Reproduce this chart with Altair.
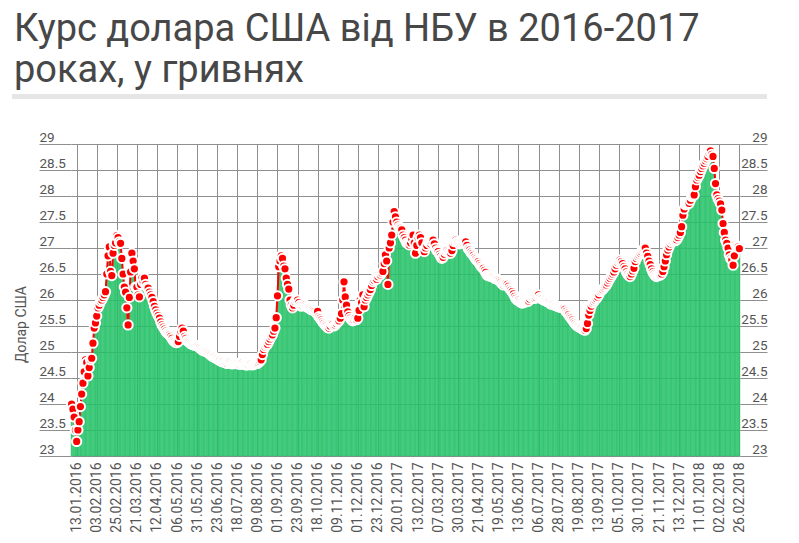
import json
import pandas as pd
import altair as alt

# x-axis tick labels (every 16th NBU business day)
date_labels = [
    "13.01.2016", "03.02.2016", "25.02.2016", "21.03.2016", "12.04.2016", "06.05.2016",
    "31.05.2016", "23.06.2016", "18.07.2016", "09.08.2016", "01.09.2016", "23.09.2016",
    "18.10.2016", "09.11.2016", "01.12.2016", "23.12.2016", "20.01.2017", "13.02.2017",
    "07.03.2017", "30.03.2017", "21.04.2017", "19.05.2017", "13.06.2017", "06.07.2017",
    "28.07.2017", "19.08.2017", "13.09.2017", "05.10.2017", "30.10.2017", "21.11.2017",
    "13.12.2017", "11.01.2018", "02.02.2018", "26.02.2018",
]
first_label_index = 4
label_step = 16

# NBU USD/UAH rate per business day
rates_2016_a = [
    24.0, 23.9, 23.75, 23.5,
    23.28, 23.5, 23.66, 23.95, 24.19, 24.4, 24.62, 24.85, 24.8, 24.54, 24.7, 24.85, 24.88, 25.17, 25.46, 25.56,
    25.69, 25.85, 25.9, 25.97, 26.0, 26.05, 26.1, 26.16, 26.5, 26.85, 27.02, 26.55, 26.47, 26.9, 27.05, 27.1,
    27.24, 27.2, 27.12, 27.09, 26.8, 26.5, 26.25, 26.15, 25.85, 25.52, 26.05, 26.54, 26.9, 26.75, 26.6, 26.25,
    26.25, 26.1, 26.06, 26.3, 26.42, 26.35, 26.42, 26.3, 26.25, 26.23, 26.15, 26.1, 26.05, 25.97, 25.88, 25.81,
    25.75, 25.7, 25.65, 25.58, 25.52, 25.48, 25.44, 25.4, 25.37, 25.35, 25.33, 25.3, 25.26, 25.22, 25.2, 25.18,
    25.18, 25.2, 25.3, 25.4, 25.46, 25.4, 25.3, 25.26, 25.22, 25.2, 25.18, 25.16, 25.15, 25.14, 25.13, 25.13,
    25.12, 25.1, 25.08, 25.06, 25.04, 25.03, 25.02, 25.01, 25.0, 24.98, 24.96, 24.94, 24.92, 24.91, 24.9, 24.88,
]
rates_2016_b = [
    24.87, 24.85, 24.84, 24.82, 24.81, 24.82, 24.8, 24.79, 24.78, 24.8, 24.81, 24.79, 24.77, 24.78, 24.79, 24.78,
    24.78, 24.77, 24.76, 24.78, 24.79, 24.77, 24.76, 24.75, 24.75, 24.76, 24.78, 24.77, 24.75, 24.76, 24.77, 24.78,
    24.78, 24.8, 24.82, 24.85, 24.95, 25.05, 25.1, 25.13, 25.15, 25.2, 25.25, 25.3, 25.33, 25.4, 25.46, 25.66,
    26.08, 26.64, 26.75, 26.85, 26.8, 26.65, 26.6, 26.42, 26.3, 26.21, 26.0, 25.9, 25.85, 25.9, 25.97, 26.0,
    26.0, 25.95, 25.9, 25.88, 25.9, 25.92, 25.9, 25.88, 25.86, 25.85, 25.83, 25.81, 25.82, 25.8, 25.78, 25.75,
    25.78, 25.68, 25.65, 25.62, 25.58, 25.55, 25.52, 25.5, 25.47, 25.46, 25.5, 25.55, 25.53, 25.5, 25.52, 25.55,
    25.58, 25.6, 25.65, 25.74, 26.0, 26.35, 26.06, 25.9, 25.77, 25.7, 25.65, 25.62, 25.6, 25.62, 25.65, 25.62,
    25.65, 25.8, 26.0, 25.95, 26.1, 25.87, 26.0, 26.05, 26.1, 26.15, 26.2, 26.28, 26.35, 26.38, 26.42, 26.4,
]
rates_2017_a = [
    26.45, 26.5, 26.48, 26.52, 26.55, 26.7, 26.87, 26.75, 26.3, 27.0, 27.1, 27.25, 27.5, 27.7, 27.6, 27.5,
    27.44, 27.4, 27.38, 27.35, 27.25, 27.2, 27.15, 27.1, 27.08, 27.06, 27.1, 27.18, 27.25, 27.1, 26.9, 27.05,
    27.2, 27.25, 27.2, 27.1, 26.95, 26.93, 27.0, 27.05, 27.12, 27.1, 27.08, 27.12, 27.15, 27.08, 27.0, 26.95,
    26.93, 26.88, 26.84, 26.8, 26.82, 26.88, 26.93, 26.95, 26.92, 26.9, 26.9, 26.95, 27.05, 27.12, 27.15, 27.12,
    27.1, 27.08, 27.1, 27.12, 27.1, 27.12, 27.12, 27.05, 26.99, 26.96, 26.92, 26.89, 26.86, 26.82, 26.79, 26.76,
    26.74, 26.7, 26.66, 26.63, 26.61, 26.57, 26.53, 26.48, 26.47, 26.46, 26.46, 26.45, 26.44, 26.42, 26.41, 26.4,
    26.39, 26.37, 26.34, 26.31, 26.29, 26.31, 26.32, 26.3, 26.26, 26.22, 26.19, 26.16, 26.12, 26.07, 26.03, 26.0,
    26.0, 25.97, 25.95, 25.94, 25.95, 25.96, 25.97, 25.97, 25.98, 26.02, 26.06, 26.05, 26.04, 26.03, 26.05, 26.08,
]
rates_2017_b = [
    26.1, 26.05, 26.03, 26.02, 26.0, 26.0, 25.98, 25.97, 25.96, 25.94, 25.92, 25.93, 25.92, 25.9, 25.89, 25.88,
    25.87, 25.86, 25.86, 25.85, 25.84, 25.82, 25.78, 25.75, 25.72, 25.68, 25.65, 25.62, 25.58, 25.55, 25.52, 25.5,
    25.49, 25.47, 25.46, 25.44, 25.43, 25.42, 25.45, 25.55, 25.71, 25.8, 25.88, 25.94, 25.97, 26.0, 26.03, 26.06,
    26.1, 26.16, 26.18, 26.2, 26.23, 26.26, 26.29, 26.33, 26.38, 26.42, 26.46, 26.5, 26.54, 26.6, 26.67, 26.72,
    26.75, 26.77, 26.74, 26.7, 26.64, 26.6, 26.54, 26.5, 26.47, 26.45, 26.5, 26.56, 26.61, 26.74, 26.8, 26.84,
    26.87, 26.9, 26.93, 26.96, 26.98, 27.0, 26.9, 26.84, 26.75, 26.68, 26.6, 26.54, 26.5, 26.47, 26.45, 26.47,
    26.48, 26.48, 26.5, 26.55, 26.64, 26.75, 26.87, 26.96, 27.02, 27.08, 27.12, 27.13, 27.15, 27.14, 27.16, 27.2,
]
rates_2018 = [
    27.25, 27.3, 27.41, 27.63, 27.75, 27.83, 27.84, 27.85, 27.86, 27.92, 27.99, 28.0, 28.02, 28.18, 28.31, 28.36,
    28.4, 28.47, 28.53, 28.58, 28.63, 28.68, 28.72, 28.76, 28.82, 28.87, 28.8, 28.76, 28.53, 28.24, 28.02, 27.95,
    27.9, 27.85, 27.73, 27.47, 27.3, 27.15, 27.09, 27.0, 26.87, 26.8, 26.77, 26.67, 26.85, 27.06, 27.04, 27.02,
    26.99,
]

rates = rates_2016_a + rates_2016_b + rates_2017_a + rates_2017_b + rates_2018
n = len(rates)
df = pd.DataFrame({"idx": list(range(n)), "rate": rates})

label_positions = [first_label_index + label_step * k for k in range(len(date_labels))]
label_expr = (
    json.dumps(date_labels, ensure_ascii=False)
    + f"[round((datum.value - {first_label_index}) / {label_step})]"
)
y_ticks = [23 + 0.5 * i for i in range(13)]

FONT = "Roboto"
GRID = "#8f8f8f"
LABEL = "#555555"

x_scale = alt.Scale(domain=[-0.5, n - 0.5], nice=False, zero=False)
y_scale = alt.Scale(domain=[23, 29], nice=False, zero=False)

x_axis = alt.Axis(
    values=label_positions, labelExpr=label_expr, labelAngle=270,
    labelAlign="right", labelBaseline="middle", labelPadding=6,
    labelFont=FONT, labelFontSize=14, labelColor=LABEL,
    grid=True, gridColor=GRID, gridWidth=1, ticks=False, domain=False,
    title=None, labelOverlap=False, labelBound=False,
)

left_axis = alt.Axis(
    values=y_ticks, format="~g", orient="left",
    tickSize=32, tickColor=GRID, labelPadding=0, labelAlign="left",
    labelBaseline="alphabetic", labelOffset=-3,
    labelFont=FONT, labelFontSize=13.5, labelColor=LABEL,
    grid=True, gridColor=GRID, domain=False,
    title="Долар США", titleFont=FONT, titleFontSize=14, titleFontWeight="normal",
    titleColor=LABEL, titleX=-50, titleY=180, titleAlign="center", titleBaseline="middle",
    titleAngle=270,
)
right_axis = alt.Axis(
    values=y_ticks, format="~g", orient="right",
    tickSize=27, tickColor=GRID, labelPadding=0, labelAlign="right",
    labelBaseline="alphabetic", labelOffset=-3,
    labelFont=FONT, labelFontSize=13.5, labelColor=LABEL,
    grid=False, domain=False, title=None,
)

base = alt.Chart(df)

bars = base.transform_calculate(
    x0="datum.idx - 0.5", x1="datum.idx + 0.5"
).mark_bar(color="#2ecc71", opacity=0.9, stroke="#22b862", strokeWidth=0.4).encode(
    x=alt.X("x0:Q", scale=x_scale, axis=x_axis),
    x2="x1:Q",
    y=alt.Y("rate:Q", scale=y_scale, axis=left_axis),
    y2=alt.datum(23),
)

line = base.mark_line(color="#ff0000", strokeWidth=2).encode(
    x=alt.X("idx:Q", scale=x_scale, axis=x_axis),
    y=alt.Y("rate:Q", scale=y_scale, axis=None),
)

points = base.mark_circle(size=85, color="#ff0000", opacity=1, stroke="white", strokeWidth=2).encode(
    x=alt.X("idx:Q", scale=x_scale, axis=x_axis),
    y=alt.Y("rate:Q", scale=y_scale, axis=right_axis),
)

title_rule = alt.Chart(pd.DataFrame({"a": [0]})).mark_rule(color="#e6e6e6", strokeWidth=5).encode(
    x=alt.value(-59), x2=alt.value(696), y=alt.value(-47.5)
)

chart = alt.layer(bars, line, points, title_rule).resolve_scale(y="shared").resolve_axis(
    y="independent"
).properties(
    width=669, height=312,
    autosize=alt.AutoSizeParams(type="none"),
    padding={"left": 71, "top": 144, "right": 59, "bottom": 87},
    title=alt.TitleParams(
        ["Курс долара США від НБУ в 2016-2017", "роках, у гривнях"],
        font=FONT, fontSize=38, fontWeight="normal", color="#474747",
        anchor="start", frame="group", dx=-57, lineHeight=41,
    ),
).configure_view(stroke=None)

chart.save("out.html", embed_options={"renderer": "svg", "actions": False})
